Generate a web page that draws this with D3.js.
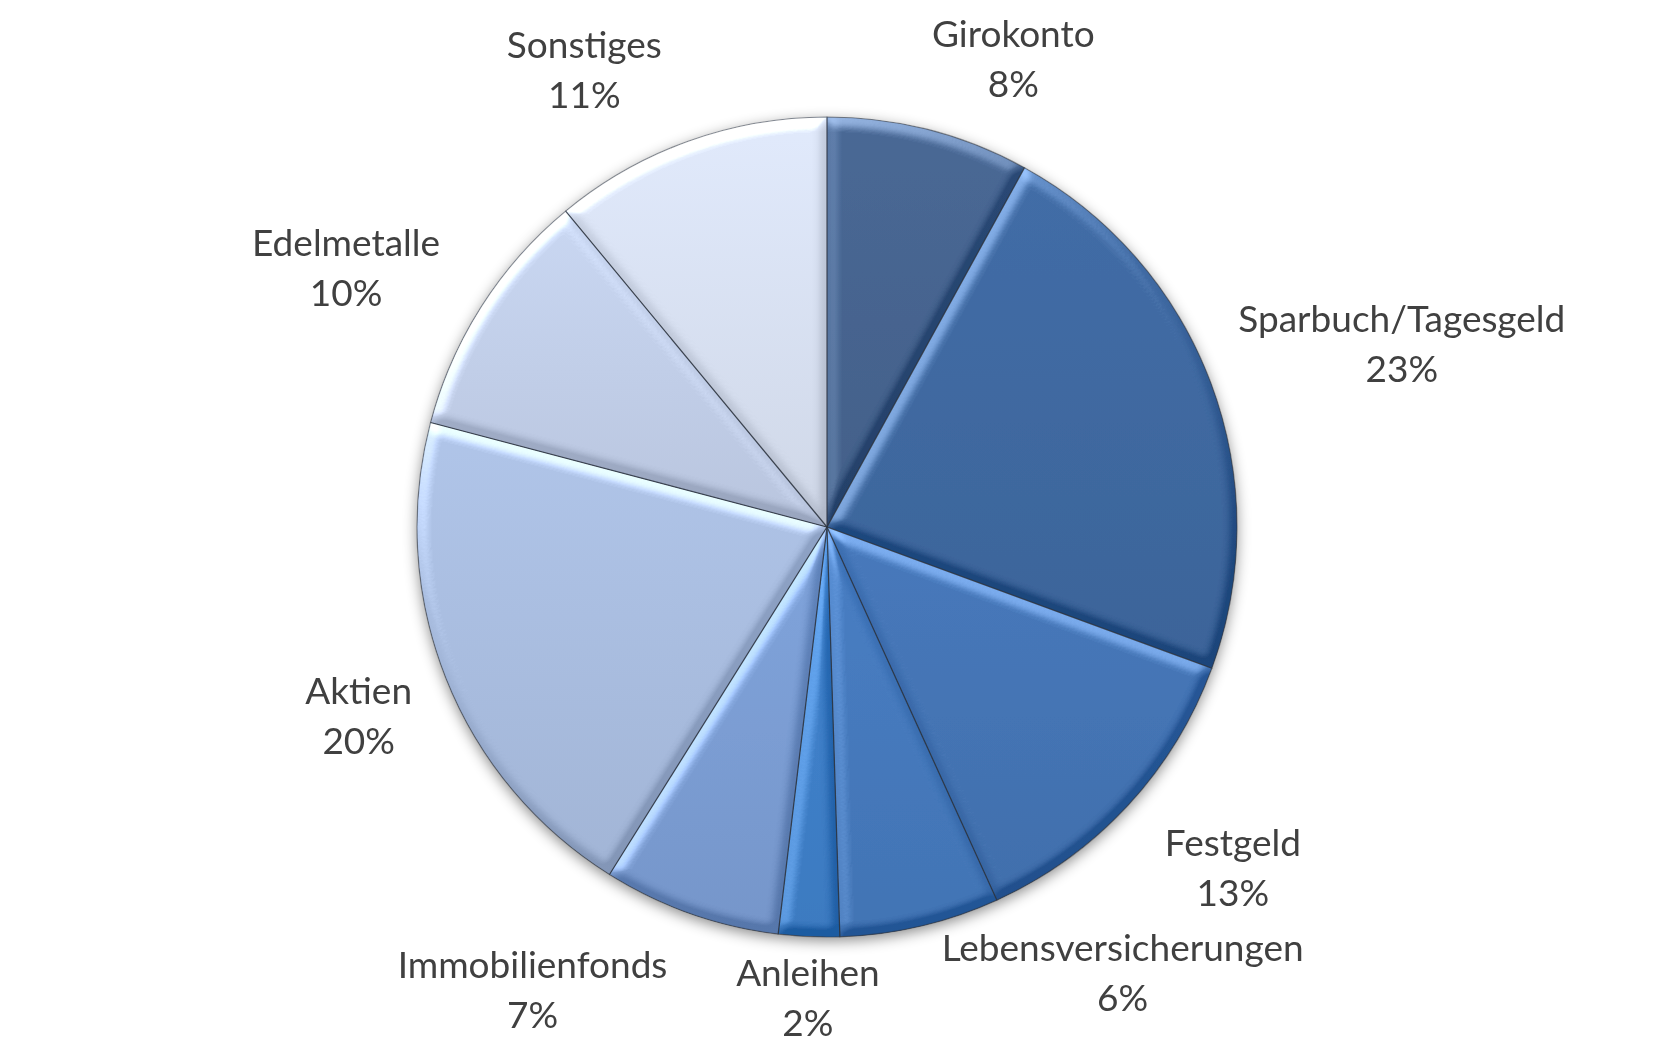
<!DOCTYPE html>
<html>
<head>
<meta charset="utf-8">
<script src="https://cdn.jsdelivr.net/npm/d3@7"></script>
<style>
  body { margin: 0; background: #fff; }
  text { font-family: Lato, "Noto Sans", sans-serif; fill: #404040; }
</style>
</head>
<body>
<div id="chart"></div>
<script>
/* Geldanlage – Verteilung (Kreisdiagramm) */

// data (shares in percent)
const categories = ["Girokonto", "Sparbuch/Tagesgeld", "Festgeld", "Lebensversicherungen",
  "Anleihen", "Immobilienfonds", "Aktien", "Edelmetalle", "Sonstiges"];
const shares = [8.0, 22.6, 12.6, 6.3, 2.4, 7.0, 20.2, 9.9, 11.0];
const colors = ["#46648f", "#3f68a0", "#4474b4", "#4579bc", "#3f7fc8",
  "#7b9dd3", "#a9bddf", "#c1cee8", "#d8e0f1"];

// where Excel pushed the labels: angle nudge (deg) and distance in radii
const labelNudge = [7.3, 2.9, -2.8, -20.4, -0.2, 13.0, -0.4, -4.3, -8.2];
const labelDist = [1.229, 1.471, 1.293, 1.305, 1.149, 1.339, 1.232, 1.332, 1.261];

const width = 1656, height = 1056,
    cx = 827, cy = 527, radius = 410;

const svg = d3.select("#chart")
    .append("svg")
    .attr("width", width)
    .attr("height", height)
    .attr("viewBox", [0, 0, width, height]);

const defs = svg.append("defs");

/* soft shadow under the whole pie */
const shadow = defs.append("filter").attr("id", "shadow")
    .attr("x", "-20%").attr("y", "-20%").attr("width", "140%").attr("height", "140%");
shadow.append("feDropShadow")
    .attr("dx", 0).attr("dy", 4).attr("stdDeviation", 7)
    .attr("flood-color", "#000").attr("flood-opacity", 0.45);

/* bevel: light the blurred alpha, squash the dark side, add it onto the fill */
const bevel = defs.append("filter").attr("id", "bevel")
    .attr("color-interpolation-filters", "sRGB")
    .attr("x", "-5%").attr("y", "-5%").attr("width", "110%").attr("height", "110%");
bevel.append("feGaussianBlur").attr("in", "SourceAlpha").attr("stdDeviation", 6).attr("result", "blur");
bevel.append("feDiffuseLighting")
    .attr("in", "blur").attr("surfaceScale", 9).attr("diffuseConstant", 1)
    .attr("lighting-color", "#fff").attr("result", "light0")
  .append("feDistantLight").attr("azimuth", 245).attr("elevation", 30);
const ct = bevel.append("feComponentTransfer").attr("in", "light0").attr("result", "light");
["R", "G", "B"].forEach(ch => ct.append("feFunc" + ch)
    .attr("type", "table").attr("tableValues", "0.38 0.5 0.85"));
bevel.append("feComposite")
    .attr("in", "SourceGraphic").attr("in2", "light")
    .attr("operator", "arithmetic")
    .attr("k1", 0).attr("k2", 1).attr("k3", 1).attr("k4", -0.5)
    .attr("result", "lit");
bevel.append("feComposite").attr("in", "lit").attr("in2", "SourceAlpha").attr("operator", "in");

/* gentle top-to-bottom shading per slice */
colors.forEach((c, i) => {
  const g = defs.append("linearGradient").attr("id", "grad" + i)
      .attr("x1", 0).attr("y1", 0).attr("x2", 0).attr("y2", 1);
  g.append("stop").attr("offset", "0%").attr("stop-color", d3.color(c).brighter(0.12));
  g.append("stop").attr("offset", "100%").attr("stop-color", d3.color(c).darker(0.12));
});

const pie = d3.pie().sort(null).value(d => d)(shares);

const arc = d3.arc().innerRadius(0).outerRadius(radius);

const g = svg.append("g")
    .attr("transform", `translate(${cx},${cy})`);

const slices = g.append("g").attr("filter", "url(#shadow)");

slices.selectAll("path")
  .data(pie)
  .join("path")
    .attr("d", arc)
    .attr("fill", (d, i) => `url(#grad${i})`)
    .attr("filter", "url(#bevel)");

// thin dark seams between the slices
g.append("g").selectAll("path")
  .data(pie)
  .join("path")
    .attr("d", arc)
    .attr("fill", "none")
    .attr("stroke", "#2b3440")
    .attr("stroke-opacity", 0.5)
    .attr("stroke-width", 1.2)
    .attr("stroke-linejoin", "round");

/* labels: name + rounded percent */
const total = d3.sum(shares);
const labels = g.append("g").selectAll("text")
  .data(pie)
  .join("text")
    .attr("text-anchor", "middle")
    .attr("font-size", 37)
    .attr("transform", (d, i) => {
      const a = (d.startAngle + d.endAngle) / 2 + labelNudge[i] * Math.PI / 180;
      const r = radius * labelDist[i];
      return `translate(${r * Math.sin(a)},${-r * Math.cos(a)})`;
    });

labels.append("tspan")
    .attr("x", 0).attr("y", -25).attr("dy", "0.35em")
    .text((d, i) => categories[i]);

labels.append("tspan")
    .attr("x", 0).attr("y", 25).attr("dy", "0.35em")
    .text(d => Math.round(d.value / total * 100) + "%");
</script>
</body>
</html>
